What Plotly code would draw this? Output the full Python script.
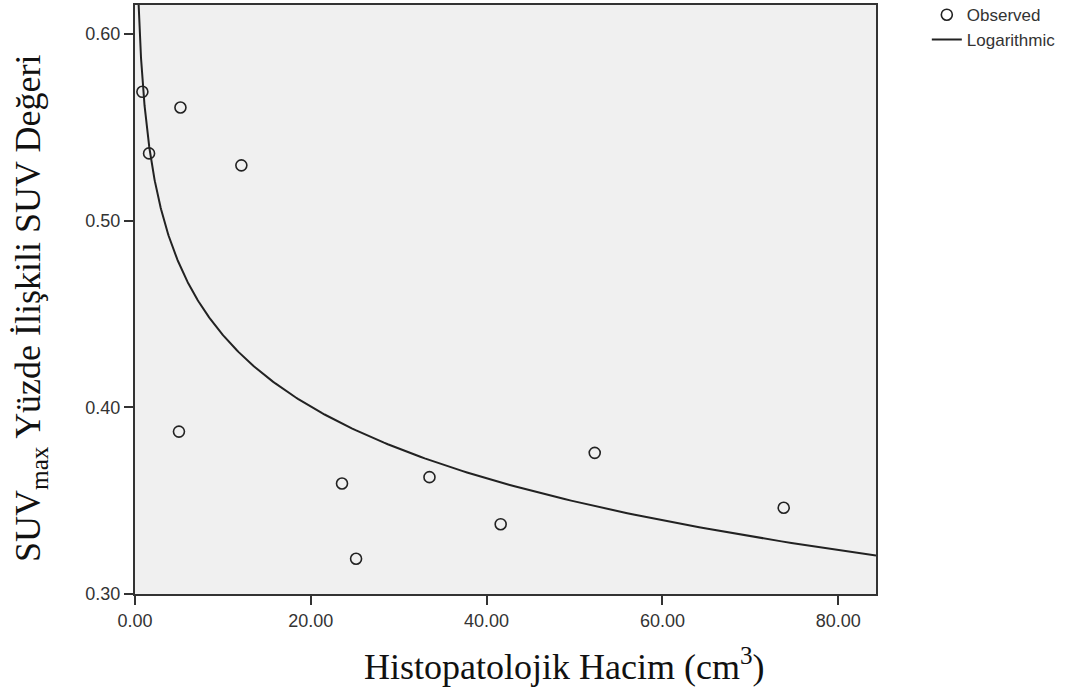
import numpy as np
import plotly.graph_objects as go

# Histopathological volume (cm³) and percentage-related SUV value per case
volume = [0.84, 1.6, 5.0, 5.17, 12.1, 23.55, 25.15, 33.5, 41.6, 52.3, 73.8]
suv_value = [0.569, 0.536, 0.387, 0.5606, 0.5296, 0.3592, 0.3189, 0.3626, 0.3374, 0.3756, 0.3462]

x_ticks = [0, 20, 40, 60, 80]
y_ticks = [0.30, 0.40, 0.50, 0.60]
x_range = [0, 84.3]
y_range = [0.30, 0.6155]

# Logarithmic model y = a + b*ln(x), least squares on the observations
b, a = np.polyfit(np.log(volume), suv_value, 1)
x_fit = np.geomspace(0.2, x_range[1], 400)
y_fit = a + b * np.log(x_fit)

INK = "#222222"
AXIS = "#333333"

fig = go.Figure()
fig.add_trace(go.Scatter(
    x=volume, y=suv_value, mode="markers", name="Observed",
    marker=dict(symbol="circle-open", size=11, color=INK, line=dict(width=1.6, color=INK)),
    legend="legend",
))
fig.add_trace(go.Scatter(
    x=x_fit, y=y_fit, mode="lines", name="Logarithmic",
    line=dict(color=INK, width=2),
    legend="legend2",
))

tick_font = dict(family="Liberation Sans, Arial, sans-serif", size=18, color=AXIS)
title_font = dict(family="Liberation Serif, Times New Roman, serif", size=36, color="#111111")
legend_font = dict(family="Liberation Sans, Arial, sans-serif", size=17, color=AXIS)

fig.update_layout(
    width=1084, height=688,
    margin=dict(l=135, r=208, t=3, b=94),
    paper_bgcolor="white",
    plot_bgcolor="#f0f0f0",
    showlegend=True,
    legend=dict(xref="container", yref="container", x=0.855, y=0.978,
                xanchor="left", yanchor="middle",
                font=legend_font, bgcolor="rgba(0,0,0,0)", itemwidth=30),
    legend2=dict(xref="container", yref="container", x=0.855, y=0.942,
                 xanchor="left", yanchor="middle",
                 font=legend_font, bgcolor="rgba(0,0,0,0)", itemwidth=30),
    xaxis=dict(
        range=x_range, tickvals=x_ticks, tickformat=".2f",
        showgrid=False, zeroline=False,
        showline=True, linecolor=AXIS, linewidth=2, mirror=True,
        ticks="outside", ticklen=9, tickwidth=2, tickcolor=AXIS,
        tickfont=tick_font,
    ),
    yaxis=dict(
        range=y_range, tickvals=y_ticks, tickformat=".2f",
        showgrid=False, zeroline=False,
        showline=True, linecolor=AXIS, linewidth=2, mirror=True,
        ticks="outside", ticklen=9, tickwidth=2, tickcolor=AXIS,
        tickfont=tick_font,
    ),
    annotations=[
        dict(text="Histopatolojik Hacim (cm<sup>3</sup>)", xref="paper", yref="paper",
             x=0.580, y=-0.120, xanchor="center", yanchor="middle",
             showarrow=False, font=title_font),
        dict(text="SUV<sub>max</sub> Yüzde İlişkili SUV Değeri", xref="paper", yref="paper",
             x=-0.1404, y=0.4856, xanchor="center", yanchor="middle", textangle=-90,
             showarrow=False, font=title_font),
    ],
)

fig.write_html("out.html")
